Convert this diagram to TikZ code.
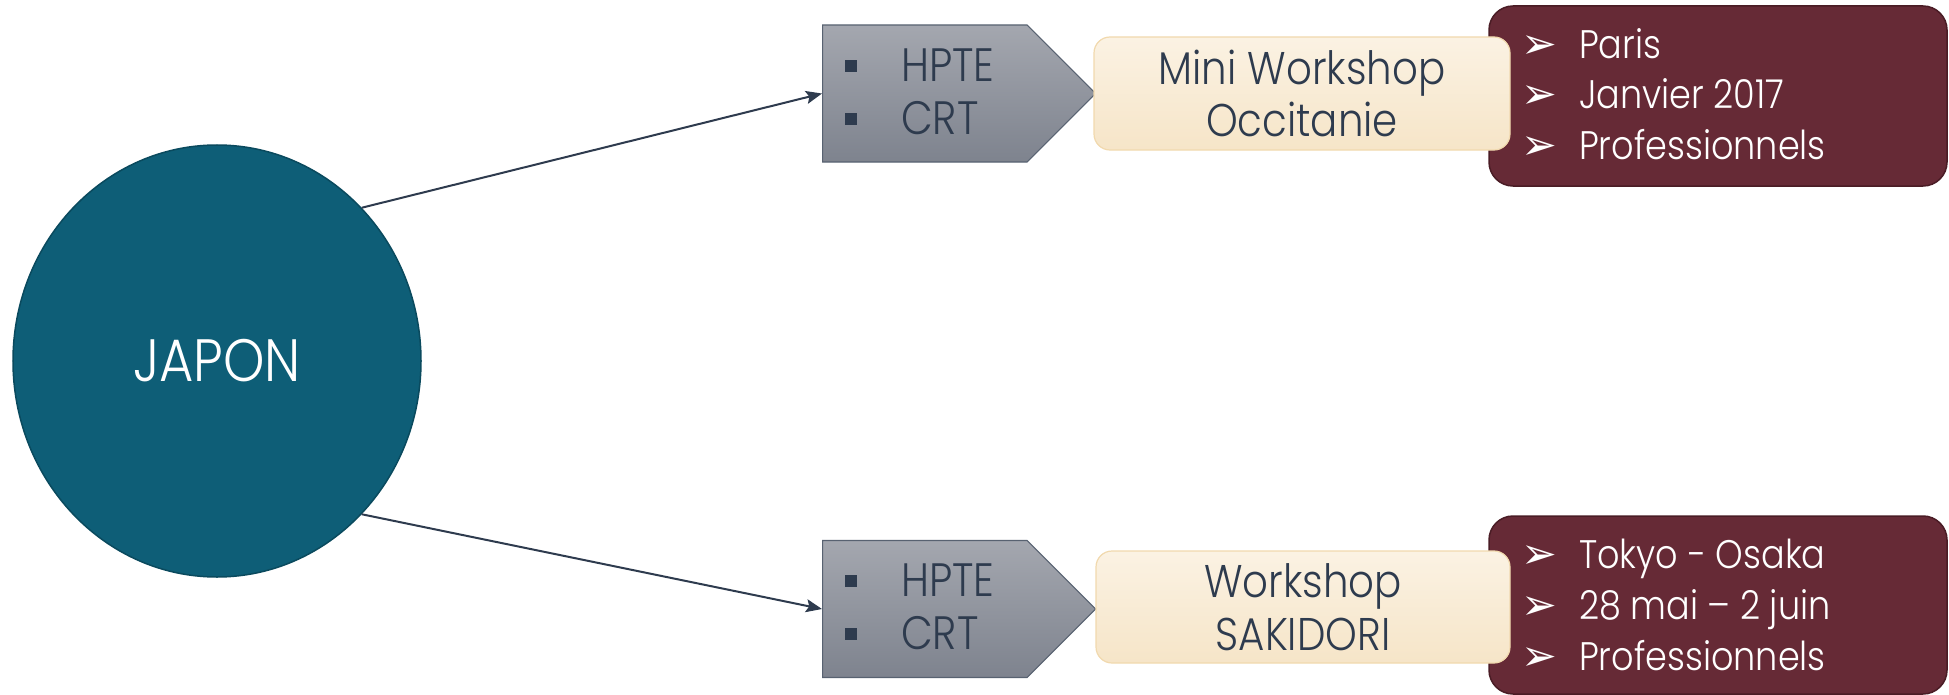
\documentclass[tikz,border=0pt]{standalone}
\usepackage{fontspec}
\setmainfont{Poppins Light}[FakeStretch=0.88]
\newfontfamily\symf{DejaVu Sans}
\usetikzlibrary{shapes.geometric,shapes.symbols,arrows.meta}
\definecolor{teal}{HTML}{0E5E77}
\definecolor{tealdk}{HTML}{0A4A5E}
\definecolor{navy}{HTML}{2E3B4E}
\definecolor{graytop}{HTML}{A4A7AF}
\definecolor{graybot}{HTML}{7E838E}
\definecolor{creamtop}{HTML}{FBF2E3}
\definecolor{creambot}{HTML}{F6E5C8}
\definecolor{creamln}{HTML}{F1D9AE}
\definecolor{maroon}{HTML}{662A36}
\definecolor{maroondk}{HTML}{4A1C25}
\newcommand{\sqbul}{\textcolor{navy}{\rule[10bp]{12bp}{12bp}}}
\newcommand{\arbul}{{\symf\fontsize{43}{43}\selectfont ➢}}
\tikzset{
  conn/.style={draw=navy, line width=2bp, -{Stealth[length=16bp,width=13bp,inset=3bp]}},
  pent/.style={signal, signal to=east, signal pointer angle=90, draw=navy!80, line width=1.2bp,
    top color=graytop, bottom color=graybot, minimum width=273bp, minimum height=137bp, inner sep=0pt},
  penttxt/.style={anchor=west, align=left, text=navy, font=\fontsize{47}{53}\selectfont, inner sep=0pt},
  cream/.style={rectangle, rounded corners=16bp, draw=creamln, line width=1.2bp,
    top color=creamtop, bottom color=creambot, align=center, text=navy,
    font=\fontsize{46}{53}\selectfont, inner sep=0pt},
  mbox/.style={rectangle, rounded corners=24bp, draw=maroondk, line width=1.5bp, fill=maroon, inner sep=0pt},
  mtxt/.style={anchor=west, align=left, text=white, font=\fontsize{40}{51}\selectfont, inner sep=0pt},
}
\begin{document}
\begin{tikzpicture}[x=1bp,y=-1bp]
\useasboundingbox (0,0) rectangle (1949,695);
% central ellipse
\node[ellipse, fill=teal, draw=tealdk, line width=1.5bp, minimum width=408bp, minimum height=432bp,
  inner sep=0pt, text=white, font=\fontsize{60}{60}\selectfont] (japon) at (217,361) {JAPON};
% maroon boxes (behind)
\node[mbox, minimum width=458bp, minimum height=180bp] (m1) at (1718,96) {};
\node[mbox, minimum width=458bp, minimum height=178bp] (m2) at (1718,605) {};
% gray pentagons
\node[pent, anchor=west] (g1) at (822,93.5) {};
\node[pent, anchor=west] (g2) at (822,609) {};
% cream boxes
\node[cream, minimum width=416bp, minimum height=113bp] (c1) at (1302,93.5) {Mini Workshop\\Occitanie};
\node[cream, minimum width=414bp, minimum height=112bp] (c2) at (1303,607) {Workshop\\SAKIDORI};
% pentagon texts
\node[penttxt] (g1t) at (845,92) {\makebox[56bp][l]{\sqbul}HPTE\\\makebox[56bp][l]{\sqbul}CRT};
\node[penttxt] (g2t) at (845,607) {\makebox[56bp][l]{\sqbul}HPTE\\\makebox[56bp][l]{\sqbul}CRT};
% maroon texts
\node[mtxt] (m1t) at (1521,94) {\makebox[58bp][l]{\arbul}Paris\\\makebox[58bp][l]{\arbul}Janvier 2017\\\makebox[58bp][l]{\arbul}Professionnels};
\node[mtxt] (m2t) at (1521,605) {\makebox[58bp][l]{\arbul}Tokyo - Osaka\\\makebox[58bp][l]{\arbul}28 mai – 2 juin\\\makebox[58bp][l]{\arbul}Professionnels};
% connectors
\draw[conn] (japon.north east) -- (g1.west);
\draw[conn] (japon.south east) -- (g2.west);
\end{tikzpicture}
\end{document}
